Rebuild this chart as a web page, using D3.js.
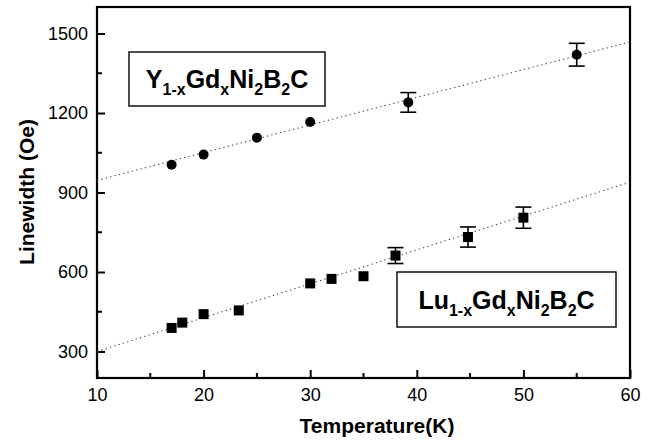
<!DOCTYPE html>
<html>
<head>
<meta charset="utf-8">
<script src="https://cdn.jsdelivr.net/npm/d3@7"></script>
<style>
  body { margin: 0; background: white; }
  text { font-family: "Liberation Sans", Arial, sans-serif; }
</style>
</head>
<body>
<svg id="chart" width="666" height="447"></svg>
<script>
//
// Data
//

// Y(1-x)Gd(x)Ni2B2C, circles
var yTemp = [17, 20, 25, 30, 39.2, 55]
var yWidth = [1005, 1043, 1107, 1166, 1240, 1420]
var yErr = [0, 0, 0, 0, 37, 43]
var yFit = [[10, 946], [60, 1468]]

// Lu(1-x)Gd(x)Ni2B2C, squares
var luTemp = [17, 18, 20, 23.3, 30, 32, 35, 38, 44.8, 50]
var luWidth = [389, 409, 441, 455, 557, 574, 584, 662, 732, 805]
var luErr = [0, 0, 0, 0, 0, 0, 0, 30, 38, 40]
var luFit = [[10, 300], [60, 939]]

var xTicks = [10, 20, 30, 40, 50, 60]
var xMinor = [15, 25, 35, 45, 55]
var yTicks = [300, 600, 900, 1200, 1500]
var yMinor = [450, 750, 1050, 1350]

//
// Setup
//

var svg = d3.select('#chart')
var plotLeft = 97, plotRight = 630, plotTop = 7, plotBottom = 378
var x = d3.scaleLinear().domain([10, 60]).range([plotLeft, plotRight])
var y = d3.scaleLinear().domain([200, 1600]).range([plotBottom, plotTop])

// axes, ticks pointing inward
var xAxis = d3.axisBottom(x).tickValues(xTicks).tickFormat(d3.format('d'))
  .tickSizeInner(-8).tickSizeOuter(0).tickPadding(10)
var yAxis = d3.axisLeft(y).tickValues(yTicks).tickFormat(d3.format('d'))
  .tickSizeInner(-8).tickSizeOuter(0).tickPadding(9)

var gx = svg.append('g').attr('transform', 'translate(0,' + plotBottom + ')').call(xAxis)
var gy = svg.append('g').attr('transform', 'translate(' + plotLeft + ',0)').call(yAxis)

gx.selectAll('.minor').data(xMinor).enter().append('line')
  .attr('x1', function (d) { return x(d) }).attr('x2', function (d) { return x(d) })
  .attr('y1', 0).attr('y2', -5)
gy.selectAll('.minor').data(yMinor).enter().append('line')
  .attr('y1', function (d) { return y(d) }).attr('y2', function (d) { return y(d) })
  .attr('x1', 0).attr('x2', 5)

;[gx, gy].forEach(function (g) {
  g.attr('font-size', 18).attr('font-family', '"Liberation Sans", Arial, sans-serif')
  g.select('.domain').remove()
  g.selectAll('line').attr('stroke', '#000').attr('stroke-width', 2)
  g.selectAll('text').attr('fill', '#000')
})

// frame
svg.append('rect')
  .attr('x', plotLeft).attr('y', plotTop)
  .attr('width', plotRight - plotLeft).attr('height', plotBottom - plotTop)
  .attr('fill', 'none').attr('stroke', '#000').attr('stroke-width', 2.2)

// axis titles
svg.append('text')
  .attr('x', 377).attr('y', 433)
  .attr('text-anchor', 'middle')
  .attr('font-size', 21).attr('font-weight', 'bold')
  .text('Temperature(K)')

svg.append('text')
  .attr('transform', 'translate(34,192) rotate(-90)')
  .attr('text-anchor', 'middle')
  .attr('font-size', 21).attr('font-weight', 'bold')
  .text('Linewidth (Oe)')

//
// Fit lines
//

var line = d3.line().x(function (d) { return x(d[0]) }).y(function (d) { return y(d[1]) })

;[yFit, luFit].forEach(function (fit) {
  svg.append('path')
    .attr('d', line(fit))
    .attr('fill', 'none')
    .attr('stroke', '#444')
    .attr('stroke-width', 1.1)
    .attr('stroke-dasharray', '1.3,3.2')
})

//
// Error bars and markers
//

function errorBars(temps, widths, errs) {
  temps.forEach(function (t, i) {
    if (!errs[i]) return
    var cx = x(t), y0 = y(widths[i] - errs[i]), y1 = y(widths[i] + errs[i])
    var g = svg.append('g').attr('stroke', '#000').attr('stroke-width', 1.6)
    g.append('line').attr('x1', cx).attr('x2', cx).attr('y1', y0).attr('y2', y1)
    g.append('line').attr('x1', cx - 8).attr('x2', cx + 8).attr('y1', y0).attr('y2', y0)
    g.append('line').attr('x1', cx - 8).attr('x2', cx + 8).attr('y1', y1).attr('y2', y1)
  })
}

errorBars(yTemp, yWidth, yErr)
errorBars(luTemp, luWidth, luErr)

svg.selectAll('.circ').data(yTemp).enter().append('circle')
  .attr('cx', function (d) { return x(d) })
  .attr('cy', function (d, i) { return y(yWidth[i]) })
  .attr('r', 5)
  .attr('fill', '#000')

svg.selectAll('.sq').data(luTemp).enter().append('rect')
  .attr('x', function (d) { return x(d) - 5 })
  .attr('y', function (d, i) { return y(luWidth[i]) - 5 })
  .attr('width', 10).attr('height', 10)
  .attr('fill', '#000')

//
// Legend boxes
//

function legendBox(bx, by, bw, bh, prefix) {
  svg.append('rect')
    .attr('x', bx).attr('y', by).attr('width', bw).attr('height', bh)
    .attr('fill', 'white').attr('stroke', '#000').attr('stroke-width', 1.4)
  var t = svg.append('text')
    .attr('x', bx + bw / 2).attr('y', by + bh / 2 + 9)
    .attr('text-anchor', 'middle')
    .attr('font-size', 25).attr('font-weight', 'bold')
  var parts = [[prefix, 0], ['1-x', 1], ['Gd', 0], ['x', 1], ['Ni', 0], ['2', 1], ['B', 0], ['2', 1], ['C', 0]]
  var shift = 0
  parts.forEach(function (p) {
    var dy = p[1] ? 7 - shift : -shift
    shift = p[1] ? 7 : 0
    t.append('tspan')
      .attr('dy', dy)
      .attr('font-size', p[1] ? 16 : 25)
      .text(p[0])
  })
}

legendBox(129, 52, 196, 54, 'Y')
legendBox(397, 272, 219, 55, 'Lu')
</script>
</body>
</html>
